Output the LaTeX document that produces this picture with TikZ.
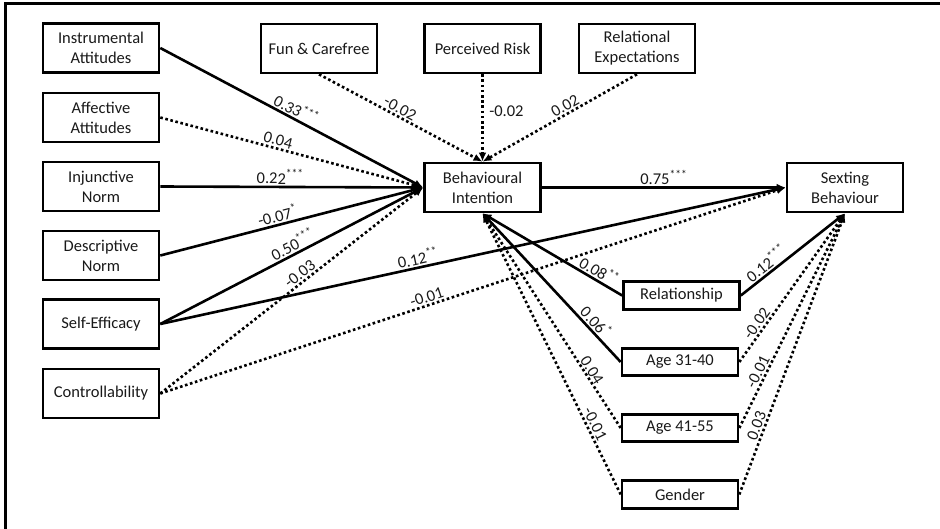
\documentclass[tikz,border=0pt]{standalone}
\usepackage{fontspec}
\setmainfont{Carlito}
\usetikzlibrary{arrows.meta}
\begin{document}
\begin{tikzpicture}[x=1pt,y=-1pt,
  box/.style={draw, line width=2.6pt, rectangle, align=center, text=black!90,
    font=\fontsize{16.5}{20}\selectfont, inner sep=0pt},
  bigbox/.style={box, minimum width=116pt, minimum height=49pt},
  smallbox/.style={box, minimum width=116pt, minimum height=27.5pt},
  solidline/.style={line width=2.6pt, -{Latex[length=9pt,width=7.5pt]}},
  dotline/.style={line width=2.6pt, dash pattern=on 2.6pt off 2.6pt, -{Latex[length=9pt,width=7.5pt]}},
  lab/.style={font=\fontsize{16.5}{20}\selectfont, text=black!90, inner sep=1.5pt}
]
\useasboundingbox (0,0) rectangle (940,529);
\draw[line width=3pt] (5,529) -- (5,4) -- (940,4);

% left column
\node[bigbox] (ins) at (101,48) {Instrumental\\Attitudes};
\node[bigbox] (aff) at (101,117.5) {Affective\\Attitudes};
\node[bigbox] (inj) at (101,186.5) {Injunctive\\Norm};
\node[bigbox] (des) at (101,255.5) {Descriptive\\Norm};
\node[bigbox] (sef) at (101,324) {Self-Efficacy};
\node[bigbox] (con) at (101,393.5) {Controllability};
% top row
\node[bigbox] (fun) at (319,48.5) {Fun \& Carefree};
\node[bigbox] (ris) at (482.5,48.5) {Perceived Risk};
\node[bigbox] (rel) at (637,48.5) {Relational\\Expectations};
% centre
\node[bigbox] (bi) at (482.5,187.5) {Behavioural\\Intention};
\node[bigbox] (sb) at (845,187.5) {Sexting\\Behaviour};
% covariates
\node[smallbox] (rsh) at (681.5,295.5) {Relationship};
\node[smallbox] (a31) at (680,362) {Age 31-40};
\node[smallbox] (a41) at (680,428) {Age 41-55};
\node[smallbox] (gen) at (680,494.5) {Gender};

% predictors -> BI
\draw[solidline] (ins.east) -- node[lab, sloped, above, pos=0.5] {0.33\textsuperscript{***}} (bi.west);
\draw[dotline] (aff.east) -- node[lab, sloped, above, pos=0.44] {0.04} (bi.west);
\draw[solidline] (inj.east) -- node[lab, sloped, above, pos=0.456] {0.22\textsuperscript{***}} (bi.west);
\draw[solidline] (des.east) -- node[lab, sloped, above, pos=0.455] {-0.07\textsuperscript{*}} (bi.west);
\draw[solidline] (sef.east) -- node[lab, sloped, above, pos=0.52] {0.50\textsuperscript{***}} (bi.west);
\draw[dotline] (con.east) -- node[lab, sloped, above, pos=0.55] {-0.03} (bi.west);
\draw[solidline] (sef.east) -- node[lab, sloped, above, pos=0.415] {0.12\textsuperscript{**}} (sb.west);
\draw[dotline] (con.east) -- node[lab, sloped, above, pos=0.43] {-0.01} (sb.west);

% top -> BI
\draw[dotline] (fun.south) -- node[lab, sloped, above, pos=0.473] {-0.02} (bi.north);
\draw[dotline] (ris.south) -- node[lab, right, pos=0.42, xshift=4pt] {-0.02} (bi.north);
\draw[dotline] (rel.south) -- node[lab, sloped, above, pos=0.44] {0.02} (bi.north);

% BI -> SB
\draw[solidline] (bi.east) -- node[lab, above, pos=0.5] {0.75\textsuperscript{***}} (sb.west);

% covariates -> BI
\draw[solidline] (rsh.west) -- node[lab, sloped, above, pos=0.2] {0.08\textsuperscript{**}} (bi.south);
\draw[solidline] (a31.west) -- node[lab, sloped, above, pos=0.229] {0.06\textsuperscript{*}} (bi.south);
\draw[dotline] (a41.west) -- node[lab, sloped, above, pos=0.252, inner sep=0.5pt] {0.04} (bi.south);
\draw[dotline] (gen.west) -- node[lab, sloped, above, pos=0.238] {-0.01} (bi.south);

% covariates -> SB
\draw[solidline] (rsh.east) -- node[lab, sloped, above, pos=0.3] {0.12\textsuperscript{***}} (sb.south);
\draw[dotline] (a31.east) -- node[lab, sloped, above, pos=0.229] {-0.02} (sb.south);
\draw[dotline] (a41.east) -- node[lab, sloped, above, pos=0.246] {-0.01} (sb.south);
\draw[dotline] (gen.east) -- node[lab, sloped, above, pos=0.235] {0.03} (sb.south);
\end{tikzpicture}
\end{document}
